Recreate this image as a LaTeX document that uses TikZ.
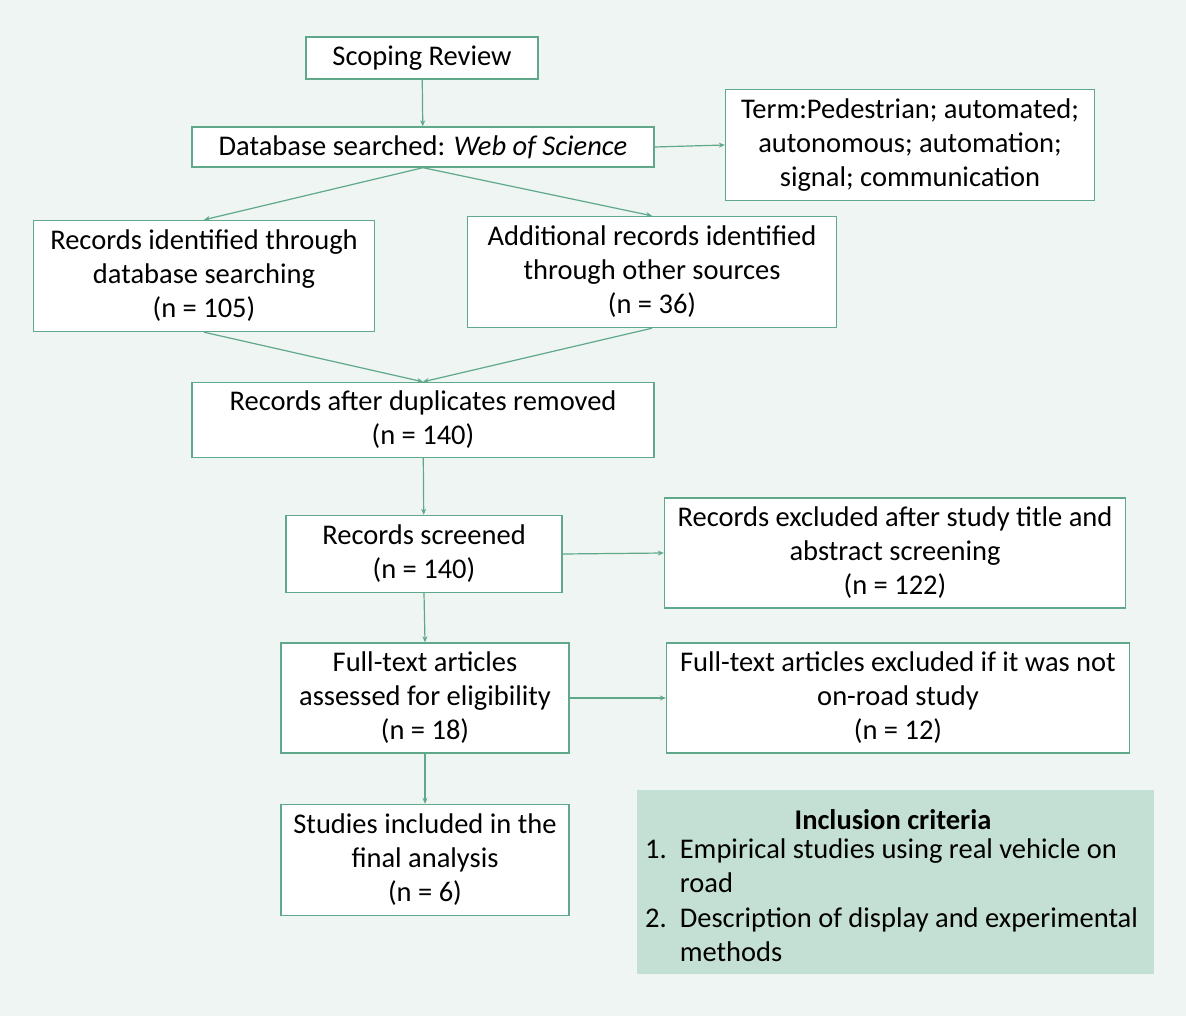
\documentclass[tikz,border=0pt]{standalone}
\usepackage{fontspec}
\setmainfont{Carlito}
\usetikzlibrary{arrows.meta}
\definecolor{bg}{HTML}{EEF5F2}
\definecolor{ln}{HTML}{5FA98A}
\definecolor{fillg}{HTML}{C4DFD3}
\begin{document}
\begin{tikzpicture}[x=1pt,y=-1pt,
  bx/.style={draw=ln,line width=1.4pt,fill=white,inner sep=0pt,align=center,font=\fontsize{28.5}{34}\selectfont},
  arr/.style={draw=ln,line width=1.2pt,-{Stealth[length=6pt,width=5pt]}}]
\fill[bg] (0,0) rectangle (1186,1016);
\useasboundingbox (0,0) rectangle (1186,1016);
\node[bx,minimum width=232,minimum height=42] (sr) at (422,58) {Scoping Review};
\node[bx,minimum width=462,minimum height=40] (db) at (423,147) {Database searched: \textit{Web of Science}};
\node[bx,minimum width=369,minimum height=111] (term) at (910,145) {Term:Pedestrian; automated;\\autonomous; automation;\\signal; communication};
\node[bx,minimum width=341,minimum height=111] (ri) at (204,276) {Records identified through\\database searching\\(n = 105)};
\node[bx,minimum width=369,minimum height=111] (adr) at (652,272) {Additional records identified\\through other sources\\(n = 36)};
\node[bx,minimum width=462,minimum height=75] (dup) at (423,420) {Records after duplicates removed\\(n = 140)};
\node[bx,minimum width=276,minimum height=77] (scr) at (424,554) {Records screened\\(n = 140)};
\node[bx,minimum width=461,minimum height=110] (exc) at (895,553) {Records excluded after study title and\\abstract screening\\(n = 122)};
\node[bx,minimum width=288,minimum height=110] (ft) at (425,698) {Full-text articles\\assessed for eligibility\\(n = 18)};
\node[bx,minimum width=463,minimum height=110] (fte) at (898,698) {Full-text articles excluded if it was not\\on-road study\\(n = 12)};
\node[bx,minimum width=288,minimum height=111] (st) at (425,860) {Studies included in the\\final analysis\\(n = 6)};
\node[fill=fillg,minimum width=517,minimum height=184,inner sep=0pt] (inc) at (895.5,882) {};
\node[font=\fontsize{28.5}{34}\selectfont\bfseries] (inct) at (893,820) {Inclusion criteria};
\node[font=\fontsize{28.5}{34}\selectfont,anchor=north west,inner sep=0pt,align=left] (inci) at (645,834)
 {\begin{tabular}{@{}l@{\hspace{13pt}}l@{}}1.&Empirical studies using real vehicle on\\&road\\[1pt]2.&Description of display and experimental\\&methods\end{tabular}};
\draw[arr] (sr) -- (db);
\draw[arr] (db.east) -- (term.west);
\draw[arr] (db.south) -- (ri.north);
\draw[arr] (db.south) -- (adr.north);
\draw[arr] (ri.south) -- (dup.north);
\draw[arr] (adr.south) -- (dup.north);
\draw[arr] (dup) -- (scr);
\draw[arr] (scr.east) -- (exc.west);
\draw[arr] (scr.south) -- (ft.north);
\draw[arr] (ft.east) -- (fte.west);
\draw[arr] (ft) -- (st);
\end{tikzpicture}
\end{document}
